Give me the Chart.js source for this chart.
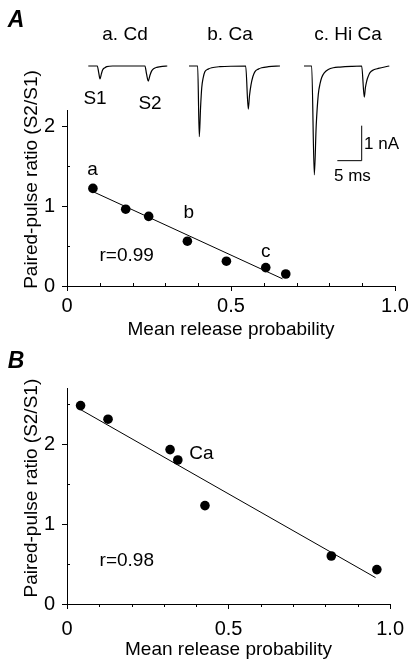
<!DOCTYPE html>
<html>
<head>
<meta charset="utf-8">
<script src="https://cdn.jsdelivr.net/npm/chart.js@4.4.0/dist/chart.umd.min.js"></script>
<style>
  body { margin: 0; background: #fff; }
  #fig { position: relative; width: 412px; height: 671px; font-family: "Liberation Sans", Arial, sans-serif; color: #000; }
  #fig canvas { position: absolute; left: 0; }
  .lbl { position: absolute; transform: translate(-50%, -50%); line-height: 1; font-size: 19px; white-space: nowrap; }
  .left { transform: translate(0, -50%); }
  .panel { font-weight: bold; font-style: italic; font-size: 23px; }
</style>
</head>
<body>
<div id="fig">
  <canvas id="chartA" width="412" height="345" style="top:0"></canvas>
  <canvas id="chartB" width="412" height="326" style="top:345px"></canvas>
  <canvas id="traces" width="412" height="200" style="top:0"></canvas>

  <div class="lbl panel" style="left:16px;top:19px">A</div>
  <div class="lbl panel" style="left:16px;top:360px">B</div>
  <div class="lbl" style="left:125px;top:33px">a. Cd</div>
  <div class="lbl" style="left:230px;top:33px">b. Ca</div>
  <div class="lbl" style="left:348px;top:33px">c. Hi Ca</div>
  <div class="lbl" style="left:95px;top:97px">S1</div>
  <div class="lbl" style="left:150px;top:102px">S2</div>
  <div class="lbl left" style="left:364px;top:143px;font-size:17px">1 nA</div>
  <div class="lbl left" style="left:334px;top:175px;font-size:17px">5 ms</div>
</div>

<script>
// panel A: mean release probability vs paired-pulse ratio
const probA = [0.079, 0.179, 0.249, 0.367, 0.486, 0.606, 0.667];
const ratioA = [1.22, 0.96, 0.87, 0.56, 0.31, 0.23, 0.15];
const fitAX = [0.079, 0.657];
const fitAY = [1.18, 0.09];

// panel B
const probB = [0.042, 0.127, 0.319, 0.343, 0.427, 0.818, 0.959];
const ratioB = [2.48, 2.31, 1.93, 1.80, 1.23, 0.60, 0.43];
const fitBX = [0.042, 0.955];
const fitBY = [2.43, 0.33];

// ticks
const xTicks = [0, 0.5, 1];
const xTickLabels = ['0', '0.5', '1.0'];
const xMinor = [0.1, 0.2, 0.3, 0.4, 0.6, 0.7, 0.8, 0.9];
const yTicks = [0, 1, 2];
const yTickLabels = ['0', '1', '2'];
const yMinorA = [0.5, 1.5];
const yMinorB = [0.5, 1.5, 2.5];

// EPSC traces (ms, nA)
const cdTime = [0, 1.85, 2.15, 2.40, 2.70, 2.96, 3.4, 3.78, 5.0, 11.64, 11.95, 12.32, 12.65, 13.02, 13.5, 14.05, 15.2, 16.22];
const cdCurrent = [0, 0, -0.2, -0.37, -0.22, -0.11, -0.05, -0.02, 0, 0, -0.22, -0.43, -0.27, -0.14, -0.07, -0.04, -0.01, 0];
const caTime = [20.68, 22.46, 22.79, 23.05, 23.29, 23.6, 23.96, 24.6, 25.34, 27, 32.32, 32.85, 33.1, 33.41, 33.8, 34.23, 34.9, 35.6, 37, 39.36];
const caCurrent = [0, 0, -2.02, -1.2, -0.63, -0.33, -0.16, -0.09, -0.05, -0.02, 0, -1.23, -0.85, -0.54, -0.3, -0.16, -0.09, -0.05, -0.02, 0];
const hiCaTime = [44.29, 45.87, 46.41, 46.8, 47.23, 47.6, 47.93, 48.5, 49.28, 50.3, 51.68, 54, 56.14, 56.67, 56.9, 57.17, 57.5, 57.84, 58.6, 59.55, 61.81];
const hiCaCurrent = [0, 0, -3.11, -1.7, -0.81, -0.5, -0.33, -0.19, -0.10, -0.05, -0.03, -0.01, 0, -0.89, -0.62, -0.43, -0.29, -0.19, -0.11, -0.07, 0];
const barMs = 5;
const barNA = 1;

Chart.defaults.font.family = '"Liberation Sans", Arial, sans-serif';
Chart.defaults.color = '#000';

const pts = (xs, ys) => xs.map((x, i) => ({ x: x, y: ys[i] }));

// short ticks between the labelled ones
const minorTicks = {
    id: 'minorTicks',
    afterDraw(chart, args, opts) {
        const { ctx, scales: { x, y } } = chart;
        ctx.save();
        ctx.strokeStyle = '#000';
        ctx.lineWidth = 1;
        ctx.beginPath();
        opts.x.forEach(v => {
            const px = Math.round(x.getPixelForValue(v)) + 0.5;
            ctx.moveTo(px, y.bottom);
            ctx.lineTo(px, y.bottom + opts.dirX * 3);
        });
        opts.y.forEach(v => {
            const py = Math.round(y.getPixelForValue(v)) + 0.5;
            ctx.moveTo(x.left, py);
            ctx.lineTo(x.left + 3, py);
        });
        ctx.stroke();
        ctx.restore();
    }
};

const textLabels = {
    id: 'textLabels',
    afterDraw(chart, args, opts) {
        const { ctx, scales: { x, y } } = chart;
        ctx.save();
        ctx.font = '19px "Liberation Sans", Arial, sans-serif';
        ctx.fillStyle = '#000';
        ctx.textAlign = 'center';
        ctx.textBaseline = 'middle';
        opts.items.forEach(it => {
            ctx.fillText(it.text, x.getPixelForValue(it.x), y.getPixelForValue(it.y));
        });
        ctx.restore();
    }
};

function makePanel(id, p) {
    return new Chart(document.getElementById(id), {
        type: 'scatter',
        data: {
            datasets: [{
                data: pts(p.px, p.py),
                pointRadius: 4.8,
                pointBackgroundColor: '#000',
                pointBorderWidth: 0
            }, {
                type: 'line',
                data: pts(p.fx, p.fy),
                borderColor: '#000',
                borderWidth: 1,
                pointRadius: 0
            }]
        },
        options: {
            responsive: false,
            animation: false,
            layout: { padding: p.padding },
            plugins: {
                legend: { display: false },
                tooltip: { enabled: false },
                minorTicks: { x: xMinor, y: p.yMinor, dirX: p.dirX },
                textLabels: { items: p.labels }
            },
            scales: {
                x: {
                    type: 'linear',
                    min: 0,
                    max: 1,
                    afterBuildTicks: s => { s.ticks = xTicks.map(v => ({ value: v })); },
                    afterFit: s => { s.height = p.xHeight; },
                    ticks: {
                        callback: (v, i) => xTickLabels[i],
                        font: { size: 20 },
                        padding: p.xPad,
                        maxRotation: 0,
                        autoSkip: false
                    },
                    grid: { drawOnChartArea: false, tickLength: 5, color: '#000' },
                    border: { color: '#000' },
                    title: {
                        display: true,
                        text: 'Mean release probability',
                        font: { size: 19 },
                        padding: { top: 0, bottom: p.titlePad }
                    }
                },
                y: {
                    min: 0,
                    max: p.yMax,
                    afterBuildTicks: s => { s.ticks = yTicks.map(v => ({ value: v })); },
                    afterFit: s => { s.width = 67; },
                    ticks: {
                        callback: (v, i) => yTickLabels[i],
                        font: { size: 20 },
                        padding: 7
                    },
                    grid: { drawOnChartArea: false, tickLength: 5, color: '#000' },
                    border: { color: '#000' },
                    title: {
                        display: true,
                        // leading spaces nudge the centred title upwards
                        text: ' '.repeat(p.titleShift) + 'Paired-pulse ratio (S2/S1)',
                        font: { size: 19 },
                        padding: { top: 20, bottom: 0 }
                    }
                }
            }
        },
        plugins: [minorTicks, textLabels]
    });
}

makePanel('chartA', {
    px: probA, py: ratioA, fx: fitAX, fy: fitAY,
    yMax: 2.2, yMinor: yMinorA, dirX: -1,
    padding: { top: 110, right: 17, left: 0, bottom: 0 },
    xHeight: 59, xPad: 3, titlePad: 3.6, titleShift: 7,
    labels: [
        { text: 'a', x: 0.078, y: 1.45 },
        { text: 'b', x: 0.371, y: 0.91 },
        { text: 'c', x: 0.606, y: 0.43 },
        { text: 'r=0.99', x: 0.182, y: 0.375 }
    ]
});

makePanel('chartB', {
    px: probB, py: ratioB, fx: fitBX, fy: fitBY,
    yMax: 2.7, yMinor: yMinorB, dirX: 1,
    padding: { top: 43, right: 21, left: 0, bottom: 0 },
    xHeight: 67, xPad: 8, titlePad: 9.6, titleShift: 3,
    labels: [
        { text: 'Ca', x: 0.416, y: 1.875 },
        { text: 'r=0.98', x: 0.185, y: 0.54 }
    ]
});

// electrophysiology traces above panel A
const line = (xs, ys) => ({ data: pts(xs, ys) });
new Chart(document.getElementById('traces'), {
    type: 'line',
    data: {
        datasets: [
            line(cdTime, cdCurrent),
            line(caTime, caCurrent),
            line(hiCaTime, hiCaCurrent),
            {
                data: pts([56.14 - barMs, 56.14, 56.14], [-2.706, -2.706, -2.706 + barNA]),
                cubicInterpolationMode: 'default',
                tension: 0,
                borderWidth: 1
            }
        ]
    },
    options: {
        responsive: false,
        animation: false,
        layout: { padding: 0 },
        plugins: { legend: { display: false }, tooltip: { enabled: false } },
        elements: {
            point: { radius: 0 },
            line: { borderColor: '#000', borderWidth: 1.2, cubicInterpolationMode: 'monotone' }
        },
        scales: {
            x: { type: 'linear', display: false, min: -18.13, max: 66.47 },
            y: { display: false, min: -3.83, max: 1.886 }
        }
    }
});
</script>
</body>
</html>
